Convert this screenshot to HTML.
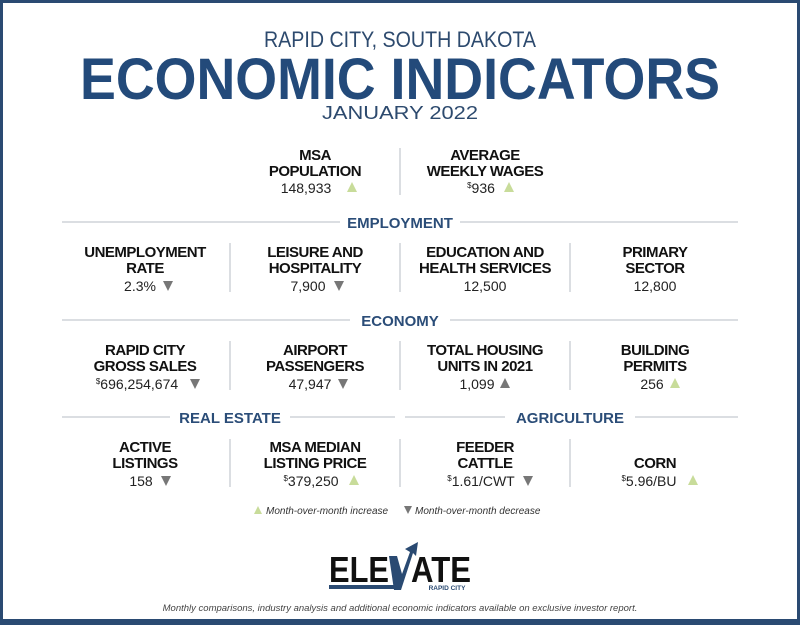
<!DOCTYPE html>
<html><head><meta charset="utf-8"><style>
html,body{margin:0;padding:0;background:#fff}
svg{display:block}
.l{font-family:"Liberation Sans",sans-serif;font-weight:bold;font-size:15px;fill:#111;text-anchor:middle;letter-spacing:-0.5px}
.v{font-family:"Liberation Sans",sans-serif;font-size:14px;fill:#222;text-anchor:middle}
.h{font-family:"Liberation Sans",sans-serif;font-weight:bold;font-size:15px;fill:#2b4d78;text-anchor:middle}
.s{font-size:8px}
</style></head><body>
<svg width="800" height="625" viewBox="0 0 800 625" xmlns="http://www.w3.org/2000/svg">
<rect x="1.5" y="1.5" width="797" height="622" fill="#fff" stroke="#2a4a72" stroke-width="3"/>
<rect x="0" y="619" width="800" height="6" fill="#2a4a72"/>
<text x="400" y="47" text-anchor="middle" font-family="Liberation Sans,sans-serif" font-size="22" fill="#2d4a6e" textLength="272" lengthAdjust="spacingAndGlyphs">RAPID CITY, SOUTH DAKOTA</text>
<text x="400" y="99" text-anchor="middle" font-family="Liberation Sans,sans-serif" font-weight="bold" font-size="58" fill="#234a7a" textLength="640" lengthAdjust="spacingAndGlyphs">ECONOMIC INDICATORS</text>
<text x="400" y="119" text-anchor="middle" font-family="Liberation Sans,sans-serif" font-size="18" fill="#2d4a6e" textLength="156" lengthAdjust="spacingAndGlyphs">JANUARY 2022</text>

<g stroke="#cfd3d8" stroke-width="1.5">
<line x1="400" y1="148" x2="400" y2="195"/>
<line x1="62" y1="222" x2="340" y2="222"/><line x1="460" y1="222" x2="738" y2="222"/>
<line x1="62" y1="320" x2="350" y2="320"/><line x1="450" y1="320" x2="738" y2="320"/>
<line x1="62" y1="417" x2="170" y2="417"/><line x1="290" y1="417" x2="395" y2="417"/>
<line x1="405" y1="417" x2="505" y2="417"/><line x1="635" y1="417" x2="738" y2="417"/>
<line x1="230" y1="243" x2="230" y2="292"/><line x1="400" y1="243" x2="400" y2="292"/><line x1="570" y1="243" x2="570" y2="292"/>
<line x1="230" y1="341" x2="230" y2="390"/><line x1="400" y1="341" x2="400" y2="390"/><line x1="570" y1="341" x2="570" y2="390"/>
<line x1="230" y1="439" x2="230" y2="487"/><line x1="400" y1="439" x2="400" y2="487"/><line x1="570" y1="439" x2="570" y2="487"/>
</g>

<text class="l" x="315" y="160">MSA</text><text class="l" x="315" y="176">POPULATION</text>
<text class="v" x="306" y="193">148,933</text><polygon points="347,192 352,182 357,192" fill="#c8dc9a"/>
<text class="l" x="485" y="160">AVERAGE</text><text class="l" x="485" y="176">WEEKLY WAGES</text>
<text class="v" x="481" y="193"><tspan class="s" dy="-5">$</tspan><tspan dy="5">936</tspan></text><polygon points="504,192 509,182 514,192" fill="#c8dc9a"/>

<text class="h" x="400" y="228">EMPLOYMENT</text>
<text class="l" x="145" y="257">UNEMPLOYMENT</text><text class="l" x="145" y="273">RATE</text>
<text class="v" x="140" y="291">2.3%</text><polygon points="163,281 173,281 168,291" fill="#777"/>
<text class="l" x="315" y="257">LEISURE AND</text><text class="l" x="315" y="273">HOSPITALITY</text>
<text class="v" x="308" y="291">7,900</text><polygon points="334,281 344,281 339,291" fill="#777"/>
<text class="l" x="485" y="257">EDUCATION AND</text><text class="l" x="485" y="273">HEALTH SERVICES</text>
<text class="v" x="485" y="291">12,500</text>
<text class="l" x="655" y="257">PRIMARY</text><text class="l" x="655" y="273">SECTOR</text>
<text class="v" x="655" y="291">12,800</text>

<text class="h" x="400" y="326">ECONOMY</text>
<text class="l" x="145" y="355">RAPID CITY</text><text class="l" x="145" y="371">GROSS SALES</text>
<text class="v" x="137" y="389"><tspan class="s" dy="-5">$</tspan><tspan dy="5">696,254,674</tspan></text><polygon points="190,379 200,379 195,389" fill="#777"/>
<text class="l" x="315" y="355">AIRPORT</text><text class="l" x="315" y="371">PASSENGERS</text>
<text class="v" x="310" y="389">47,947</text><polygon points="338,379 348,379 343,389" fill="#777"/>
<text class="l" x="485" y="355">TOTAL HOUSING</text><text class="l" x="485" y="371">UNITS IN 2021</text>
<text class="v" x="477" y="389">1,099</text><polygon points="500,388 505,378 510,388" fill="#777"/>
<text class="l" x="655" y="355">BUILDING</text><text class="l" x="655" y="371">PERMITS</text>
<text class="v" x="652" y="389">256</text><polygon points="670,388 675,378 680,388" fill="#c8dc9a"/>

<text class="h" x="230" y="423">REAL ESTATE</text>
<text class="h" x="570" y="423">AGRICULTURE</text>
<text class="l" x="145" y="452">ACTIVE</text><text class="l" x="145" y="468">LISTINGS</text>
<text class="v" x="141" y="486">158</text><polygon points="161,476 171,476 166,486" fill="#777"/>
<text class="l" x="315" y="452">MSA MEDIAN</text><text class="l" x="315" y="468">LISTING PRICE</text>
<text class="v" x="311" y="486"><tspan class="s" dy="-5">$</tspan><tspan dy="5">379,250</tspan></text><polygon points="349,485 354,475 359,485" fill="#c8dc9a"/>
<text class="l" x="485" y="452">FEEDER</text><text class="l" x="485" y="468">CATTLE</text>
<text class="v" x="481" y="486"><tspan class="s" dy="-5">$</tspan><tspan dy="5">1.61/CWT</tspan></text><polygon points="523,476 533,476 528,486" fill="#777"/>
<text class="l" x="655" y="468">CORN</text>
<text class="v" x="649" y="486"><tspan class="s" dy="-5">$</tspan><tspan dy="5">5.96/BU</tspan></text><polygon points="688,485 693,475 698,485" fill="#c8dc9a"/>

<polygon points="254,514 258,506 262,514" fill="#c8dc9a"/>
<text x="266" y="514" font-family="Liberation Sans,sans-serif" font-style="italic" font-size="10" fill="#333">Month-over-month increase</text>
<polygon points="404,506 412,506 408,514" fill="#777"/>
<text x="415" y="514" font-family="Liberation Sans,sans-serif" font-style="italic" font-size="10" fill="#333">Month-over-month decrease</text>

<text x="329" y="582" font-family="Liberation Sans,sans-serif" font-weight="900" font-size="36" fill="#111" textLength="60" lengthAdjust="spacingAndGlyphs">ELE</text>
<text x="411" y="582" font-family="Liberation Sans,sans-serif" font-weight="900" font-size="36" fill="#111" textLength="60" lengthAdjust="spacingAndGlyphs">ATE</text>
<polygon points="389,556 397,556 402,574 410,552 405,549 418,542 416,556 413,553 401,590 394,590" fill="#2a4a72"/>
<rect x="329" y="585" width="72" height="4" fill="#2a4a72"/>
<text x="447" y="590" text-anchor="middle" font-family="Liberation Sans,sans-serif" font-weight="bold" font-size="6.5" fill="#2a4a72">RAPID CITY</text>

<text x="400" y="611" text-anchor="middle" font-family="Liberation Sans,sans-serif" font-style="italic" font-size="9.5" fill="#444">Monthly comparisons, industry analysis and additional economic indicators available on exclusive investor report.</text>
</svg>
</body></html>
